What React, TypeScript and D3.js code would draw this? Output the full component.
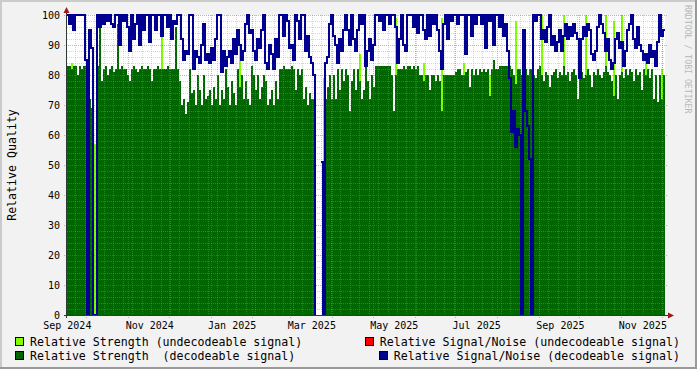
import React from 'react';
import * as d3 from 'd3';

// time span covered by the plot
const START = new Date(2024, 8, 16, 18);
const END = new Date(2025, 11, 3, 10);

// relative strength, decodeable signal (dark green area)
const strengthDecoded: (number | null)[] = [
  83, 83, 82, 83, 83, 80, 83, 82, 83, 83,
  83, 72, 69, 0, 0, 83, 100, 78, 82, 83,
  80, 82, 83, 81, 82, 97, 82, 83, 82, 82,
  80, 78, 82, 83, 82, 81, 82, 83, 82, 82,
  83, 82, 78, 82, 82, 83, 82, 82, 82, 82,
  83, 82, 82, 82, 96, 82, 78, 70, 72, 67,
  71, 82, 74, 75, 70, 80, 75, 70, 80, 72,
  73, 75, 70, 76, 72, 80, 70, 75, 72, 82,
  76, 70, 78, 74, 70, 82, 76, 80, 72, 78,
  72, 70, 83, 80, 75, 80, 72, 76, 80, 78,
  70, 72, 75, 70, 78, 72, 82, 82, 83, 82,
  82, 82, 83, 82, 75, 82, 80, 82, 72, 76,
  70, 74, 72, 72, null, null, null, null, 0, 72,
  76, 80, 72, 80, 72, 82, 75, 82, 78, 82,
  80, 68, 78, 82, 75, 82, 78, 72, 75, 83,
  78, 72, 80, 76, 83, 83, 83, 83, 83, 83,
  83, 83, 80, 68, 80, 82, 82, 82, 83, 82,
  83, 83, 82, 83, 82, 83, 80, 80, 78, 80,
  80, 75, 80, 80, 78, 80, 78, 68, 80, 80,
  80, 80, 80, 80, 81, 82, 82, 80, 80, 81,
  82, 76, 82, 80, 82, 80, 82, 81, 82, 81,
  82, 73, 82, 85, 82, 82, 83, 83, 83, 83,
  83, 83, 82, 80, 77, 82, 82, 80, 81, 82,
  80, 82, 82, 80, 79, 82, 83, 80, 78, 81,
  80, 76, 80, 81, 82, 79, 81, 80, 83, 80,
  81, 78, 81, 82, 80, 72, 80, 81, 79, 80,
  82, 80, 76, 81, 80, 82, 80, 79, 81, 83,
  81, 80, 78, 73, 80, 72, 80, 81, 79, 82,
  80, 82, 81, 78, 82, 80, 81, 75, 82, 80,
  82, 79, 82, 72, 80, 71, 80, 72, 80,
];

// relative strength, undecodeable signal (light green area)
const strengthUndecoded: number[] = [
  0, 0, 84, 0, 0, 0, 0, 0, 0, 0,
  0, 0, 0, 57, 57, 0, 0, 0, 0, 0,
  0, 0, 0, 0, 0, 0, 0, 0, 0, 0,
  0, 0, 0, 0, 0, 0, 0, 0, 0, 0,
  0, 0, 0, 0, 0, 0, 0, 100, 0, 0,
  0, 0, 0, 0, 0, 0, 0, 0, 0, 0,
  0, 0, 0, 0, 0, 0, 0, 0, 0, 0,
  0, 0, 0, 0, 0, 0, 0, 0, 0, 0,
  0, 0, 0, 0, 0, 0, 90, 0, 0, 0,
  0, 0, 0, 0, 0, 0, 0, 0, 0, 0,
  0, 0, 0, 0, 0, 0, 0, 0, 0, 0,
  0, 0, 0, 0, 0, 0, 0, 0, 0, 0,
  0, 0, 0, 0, 0, 0, 0, 0, 79, 0,
  0, 0, 0, 0, 0, 0, 0, 0, 0, 0,
  0, 0, 0, 0, 0, 0, 87, 0, 0, 0,
  0, 0, 0, 0, 0, 0, 0, 0, 0, 0,
  0, 0, 0, 0, 99, 0, 0, 0, 0, 0,
  0, 0, 0, 0, 0, 0, 0, 0, 84, 0,
  0, 0, 0, 0, 0, 0, 0, 99, 0, 0,
  0, 0, 0, 0, 0, 0, 0, 0, 84, 0,
  0, 0, 0, 0, 0, 0, 0, 0, 0, 0,
  0, 80, 0, 0, 0, 0, 0, 0, 0, 0,
  0, 0, 0, 0, 98, 0, 0, 0, 0, 0,
  0, 0, 0, 0, 0, 0, 0, 100, 0, 0,
  0, 0, 0, 0, 0, 0, 0, 0, 100, 0,
  0, 0, 0, 0, 0, 0, 0, 0, 0, 100,
  0, 0, 0, 0, 0, 0, 0, 0, 0, 100,
  0, 0, 0, 98, 0, 0, 0, 100, 0, 0,
  0, 0, 0, 0, 0, 0, 0, 0, 0, 85,
  0, 0, 0, 0, 0, 0, 0, 82, 0,
];

// relative signal/noise, decodeable signal (blue line)
const snrDecoded: (number | null)[] = [
  100, 97, 100, 95, 100, 100, 100, 100, 100, 85,
  0, 95, 89, 0, 0, 100, 96, 100, 97, 100,
  98, 100, 97, 96, 100, 100, 90, 100, 98, 100,
  96, 88, 100, 92, 97, 100, 90, 100, 95, 100,
  100, 91, 100, 100, 95, 100, 100, 93, 100, 100,
  96, 100, 92, 98, 97, 100, 100, 92, 85, 88,
  87, 100, 100, 82, 88, 86, 84, 90, 97, 85,
  87, 84, 89, 85, 92, 100, 100, 81, 88, 83,
  86, 88, 84, 92, 87, 95, 90, 85, 88, 97,
  100, 94, 95, 88, 85, 92, 89, 95, 100, 84,
  82, 90, 87, 82, 92, 86, 100, 100, 93, 100,
  98, 89, 90, 85, 100, 98, 92, 100, 100, 88,
  93, 86, 84, 80, 0, null, null, 51, 0, 84,
  86, 97, 100, 93, 90, 84, 92, 88, 95, 100,
  95, 90, 100, 92, 88, 95, 100, 97, 100, 83,
  88, 92, 85, 90, 100, 100, 98, 100, 95, 100,
  100, 97, 100, 100, 96, 84, 92, 100, 90, 88,
  100, 100, 100, 96, 100, 94, 100, 100, 95, 92,
  100, 93, 100, 97, 100, 95, 88, 82, 97, 100,
  92, 100, 98, 100, 100, 97, 100, 100, 100, 87,
  100, 100, 93, 100, 97, 100, 100, 97, 100, 89,
  100, 98, 100, 90, 100, 100, 96, 100, 93, 97,
  88, 79, 61, 68, 56, 62, 60, 0, 95, 68,
  63, 52, 0, 100, 98, 100, 100, 92, 95, 91,
  96, 100, 90, 93, 88, 91, 95, 88, 93, 97,
  92, 96, 93, 97, 94, 92, 79, 92, 96, 93,
  97, 95, 87, 85, 88, 96, 100, 97, 94, 88,
  92, 85, 82, 84, 92, 94, 89, 91, 83, 88,
  95, 97, 100, 92, 89, 96, 90, 88, 85, 87,
  84, 90, 86, 88, 83, 91, 100, 93, 95,
];

const yTicks = [0, 10, 20, 30, 40, 50, 60, 70, 80, 90, 100];
const yMinorTicks = d3.range(0, 101, 2);

const legendItems = [
  { label: 'Relative Strength (undecodeable signal)', color: '#7FFF00', col: 0, row: 0 },
  { label: 'Relative Signal/Noise (undecodeable signal)', color: '#FF0000', col: 1, row: 0 },
  { label: 'Relative Strength  (decodeable signal)', color: '#006600', col: 0, row: 1 },
  { label: 'Relative Signal/Noise (decodeable signal)', color: '#000090', col: 1, row: 1 },
];

const MONO = '"DejaVu Sans Mono", monospace';

type Pt = { d: Date; v: number | null };

export default function App() {
  const W = 697;
  const H = 369;
  const left = 67, right = 665, top = 15, bottom = 315;

  const x = d3.scaleTime().domain([START, END]).range([left, right]);
  const y = d3.scaleLinear().domain([0, 100]).range([bottom, top]);

  const n = snrDecoded.length;
  const stepMs = (END.getTime() - START.getTime()) / n;
  const dates = d3.range(n + 1).map(i => new Date(START.getTime() + i * stepMs));

  // one rect per sample, like rrdtool's pixel columns
  const columns = (vals: (number | null)[], color: string) =>
    vals.map((v, i) => {
      if (v == null || v <= 0) return null;
      const x0 = Math.round(x(dates[i]));
      const x1 = Math.round(x(dates[i + 1]));
      return (
        <rect key={i} x={x0} width={x1 - x0} y={y(v)} height={y(0) - y(v)} fill={color} />
      );
    });

  const pts: Pt[] = snrDecoded.map((v, i) => ({ d: dates[i], v }));
  pts.push({ d: END, v: snrDecoded[n - 1] });
  const line = d3
    .line<Pt>()
    .defined(p => p.v != null)
    .x(p => Math.round(x(p.d)))
    .y(p => y(p.v as number))
    .curve(d3.curveStepAfter);

  const weeks = d3.timeMonday.range(START, END);
  const months = d3.timeMonth.range(START, END);
  const labelMonths = d3.timeMonth.every(2)!.range(d3.timeMonth.floor(START), END);
  const fmt = d3.timeFormat('%b %Y');

  const minorStroke = 'rgba(150,150,150,0.4)';
  const majorStroke = 'rgba(225,70,70,0.5)';

  return (
    <svg
      width={W}
      height={H}
      viewBox={`0 0 ${W} ${H}`}
      style={{ position: 'fixed', left: 0, top: 0, fontFamily: MONO }}
    >
      <rect x={0} y={0} width={W} height={H} fill="#F2F2F2" />
      <line x1={0} y1={1} x2={W} y2={1} stroke="#CBCBCB" strokeWidth={2} />
      <line x1={1} y1={0} x2={1} y2={H} stroke="#CBCBCB" strokeWidth={2} />
      <line x1={0} y1={H - 1} x2={W} y2={H - 1} stroke="#999999" strokeWidth={2} />
      <line x1={W - 1} y1={0} x2={W - 1} y2={H} stroke="#999999" strokeWidth={2} />

      <rect x={left} y={top} width={right - left} height={bottom - top} fill="#FFFFFF" />

      <g shapeRendering="crispEdges">
        {columns(strengthUndecoded, '#7FFF00')}
        {columns(strengthDecoded, '#006600')}
      </g>

      <g shapeRendering="crispEdges" strokeWidth={1} strokeDasharray="1,1" fill="none">
        {yMinorTicks.filter(t => t % 10 !== 0).map(t => (
          <line key={'ym' + t} x1={left} x2={right} y1={y(t) + 0.5} y2={y(t) + 0.5} stroke={minorStroke} />
        ))}
        {weeks.map(w => (
          <line key={'xw' + w.getTime()} x1={Math.round(x(w)) + 0.5} x2={Math.round(x(w)) + 0.5} y1={top} y2={bottom} stroke={minorStroke} />
        ))}
        {yTicks.filter(t => t > 0).map(t => (
          <line key={'yM' + t} x1={left - 3} x2={right + 3} y1={y(t) + 0.5} y2={y(t) + 0.5} stroke={majorStroke} />
        ))}
        {months.map(m => (
          <line key={'xM' + m.getTime()} x1={Math.round(x(m)) + 0.5} x2={Math.round(x(m)) + 0.5} y1={top} y2={bottom + 3} stroke={majorStroke} />
        ))}
      </g>

      <path d={line(pts) || ''} fill="none" stroke="#000090" strokeWidth={1.8} shapeRendering="crispEdges" />

      {/* axes */}
      <g shapeRendering="crispEdges">
        <line x1={left - 3} x2={right + 3} y1={bottom + 0.5} y2={bottom + 0.5} stroke="#2C3A33" />
        <line x1={left - 0.5} x2={left - 0.5} y1={bottom + 3} y2={top - 3} stroke="#2C3A33" />
      </g>
      <path d={`M${left - 0.5},${top - 8} L${left - 3.5},${top - 2} L${left + 2.5},${top - 2} Z`} fill="#A01818" />
      <path d={`M${right + 9},${bottom + 0.5} L${right + 3},${bottom - 2.5} L${right + 3},${bottom + 3.5} Z`} fill="#A01818" />

      {/* y tick labels */}
      <g fontSize={10} fill="#000" textAnchor="end">
        {yTicks.map(t => (
          <text key={'yl' + t} x={60} y={y(t)} dy="0.36em">{t}</text>
        ))}
      </g>

      {/* x tick labels, centred on the month */}
      <g fontSize={10} fill="#000" textAnchor="middle">
        {labelMonths.map(m => (
          <text key={'xl' + m.getTime()} x={x(d3.timeDay.offset(m, 16))} y={329}>{fmt(m)}</text>
        ))}
      </g>

      <text
        transform="translate(16,165) rotate(-90)"
        textAnchor="middle"
        fontSize={11.6}
        fill="#000"
      >
        Relative Quality
      </text>

      <text
        transform="translate(685,5) rotate(90)"
        fontSize={8.2}
        fill="#B8B8B8"
      >
        RRDTOOL / TOBI OETIKER
      </text>

      {/* legend */}
      {legendItems.map(item => {
        const textRight = 680;
        const rowY = item.row === 0 ? 345.5 : 359.5;
        const boxY = item.row === 0 ? 337 : 351;
        const charW = 11.6 * 0.602;
        const tx = item.col === 0 ? 30 : textRight - item.label.length * charW;
        return (
          <g key={item.label}>
            <rect x={tx - 14.5} y={boxY + 0.5} width={8} height={8} fill={item.color} stroke="#000" strokeWidth={1} shapeRendering="crispEdges" />
            <text x={tx} y={rowY} fontSize={11.6} fill="#000" style={{ whiteSpace: 'pre' }}>
              {item.label}
            </text>
          </g>
        );
      })}
    </svg>
  );
}
